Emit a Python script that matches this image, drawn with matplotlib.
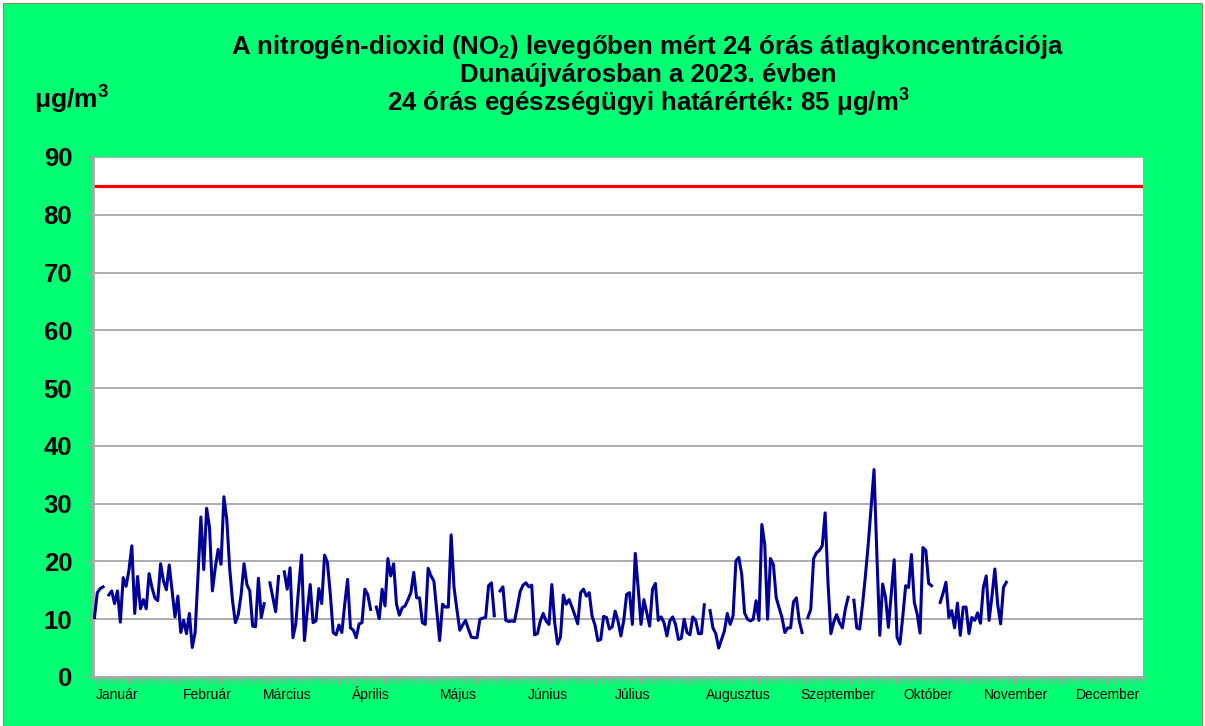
import numpy as np
import matplotlib
matplotlib.use("Agg")
import matplotlib.pyplot as plt
from matplotlib.patches import Rectangle
import matplotlib.transforms as mtransforms

plt.rcParams['font.family'] = ['Liberation Sans', 'DejaVu Sans']
plt.rcParams['mathtext.fontset'] = 'custom'
plt.rcParams['mathtext.rm'] = 'Liberation Sans:bold'
plt.rcParams['mathtext.default'] = 'rm'

nan = np.nan

# daily 24h mean NO2 (µg/m3), 2023, from 1 Jan; nan = missing day
jan_feb = [10.3, 14.6, 15.3, 15.6, nan, 14.2, 14.9, 12.7, 14.9, 9.5,
           17.2, 15.7, 18.5, 22.7, 11.0, 17.4, 11.8, 13.4, 11.8, 17.9,
           15.5, 13.7, 13.2, 19.6, 16.6, 15.1, 19.4, 14.9, 10.4, 14.0,
           7.7, 9.8, 7.5, 11.0, 5.1, 7.7, 17.5, 27.7, 18.6, 29.2,
           25.9, 14.9, 18.9, 22.1, 19.5, 31.2, 27.3, 18.9, 13.2, 9.4,
           10.8, 14.3, 19.6, 16.0, 14.9, 8.8, 8.7, 17.1, 10.3]
mar_apr = [12.7, nan, 16.3, 13.8, 11.3, 17.4, nan, 18.2, 15.2, 18.9,
           6.8, 9.2, 15.5, 21.1, 6.3, 11.5, 16.0, 9.4, 9.7, 15.3,
           12.7, 21.1, 19.8, 14.3, 7.7, 7.3, 9.0, 7.7, 12.6, 16.9,
           8.5, 8.1, 6.8, 9.2, 9.4, 15.2, 14.3, 11.7, nan, 12.1,
           10.1, 15.2, 12.3, 20.5, 17.5, 19.6, 12.6, 10.7, 12.0, 12.3,
           13.4, 14.6, 18.1, 13.7, 13.7, 9.4, 9.1, 18.8, 17.5, 16.6,
           11.4]
may_jun = [6.3, 12.6, 12.1, 12.1, 24.6, 15.5, 11.7, 8.1, 9.0, 9.8,
           8.3, 6.9, 6.8, 6.8, 10.0, 10.2, 10.3, 15.8, 16.3, 10.6,
           nan, 14.9, 15.6, 9.8, 9.6, 9.7, 9.6, 12.1, 14.8, 15.9,
           16.3, 15.6, 15.9, 7.3, 7.5, 9.7, 11.0, 9.7, 9.1, 16.0,
           9.4, 5.7, 6.9, 14.2, 12.6, 13.4, 12.1, 10.7, 9.2, 14.6,
           15.2, 14.0, 14.6, 10.5, 9.0, 6.3, 6.5, 10.5, 10.3, 8.3,
           8.7]
jul_aug = [11.4, 9.7, 7.1, 9.8, 14.3, 14.6, 9.1, 21.4, 15.5, 9.1,
           13.4, 11.1, 8.8, 15.2, 16.2, 9.8, 10.4, 9.4, 7.1, 9.7,
           10.4, 9.1, 6.5, 6.7, 10.0, 7.7, 7.3, 10.4, 9.8, 7.5,
           7.5, 12.5, nan, 11.5, 8.5, 7.5, 5.0, 6.5, 8.0, 11.0,
           9.1, 10.6, 20.1, 20.7, 17.8, 11.1, 10.0, 9.7, 10.0, 13.2,
           9.8, 26.4, 23.0, 10.0, 20.5, 19.5, 13.7, 12.0, 10.3, 7.7,
           8.5, 8.5]
sep_oct = [13.0, 13.7, 9.7, 7.7, nan, 10.3, 11.7, 20.5, 21.5, 21.9,
           22.7, 28.4, 16.3, 7.5, 9.5, 10.8, 9.4, 8.5, 11.7, 13.8,
           nan, 13.3, 8.5, 8.3, 12.5, 17.5, 23.0, 29.5, 35.9, 21.0,
           7.2, 16.1, 13.8, 8.6, 14.5, 20.3, 6.9, 5.7, 10.5, 15.8,
           15.5, 21.2, 12.9, 10.9, 7.6, 22.4, 21.9, 16.2, 15.8, nan,
           nan]
nov_dec = [12.9, 14.5, 16.4, 10.3, 11.5, 8.5, 12.8, 7.2, 12.1, 12.1,
           7.5, 10.3, 9.8, 11.1, 9.3, 15.5, 17.5, 9.8, 14.0, 18.7,
           12.5, 9.2, 15.5, 16.4]

no2 = np.array(jan_feb + mar_apr + may_jun + jul_aug + sep_oct + nov_dec)
no2 = np.concatenate([no2, np.full(365 - len(no2), nan)])
days = np.arange(365)

limit = 85
months = ['Január', 'Február', 'Március', 'Április', 'Május', 'Június',
          'Július', 'Augusztus', 'Szeptember', 'Október', 'November', 'December']

green = '#00FF73'
fig = plt.figure(figsize=(12.05, 7.26), dpi=100, facecolor='white')
bg = Rectangle((3 / 1205, 0), 1199 / 1205, 723 / 726,
               transform=fig.transFigure, facecolor=green,
               edgecolor='#8a8a60', linewidth=0.8, zorder=-10)
fig.patches.append(bg)

ax = fig.add_axes([93 / 1205, 1 - 677 / 726, 1050 / 1205, 520 / 726], zorder=5)
ax.set_facecolor('white')

ax.plot(days, no2, color='#000099', linewidth=2.2, zorder=3)
ax.axhline(limit, color='#FF0000', linewidth=2.3, zorder=2)

ax.set_xlim(-0.5, 364.5)
ax.set_ylim(0, 90)
ax.set_yticks(range(0, 91, 10))
ax.yaxis.grid(True, color='#A0A0A0', linewidth=1.2)
ax.set_axisbelow(True)

ax.tick_params(axis='y', labelsize=18.5, length=5, width=1, color='#A0A0A0', pad=10)
for lbl in ax.get_yticklabels():
    lbl.set_fontweight('bold')

ax.set_xticks([])
ax.set_xticks(np.arange(-0.5, 365, 1), minor=True)
ax.tick_params(axis='x', which='minor', length=5, width=0.6, color='#A0A0A0')

for s in ['top', 'right']:
    ax.spines[s].set_visible(False)
for s in ['left', 'bottom']:
    ax.spines[s].set_color('#A8A8A8')
    ax.spines[s].set_linewidth(2)

# month labels
label_pos = [0.5, 30.8, 58.6, 89.5, 120.1, 150.7, 181.0, 212.6, 245.3, 281.1, 309.2, 341.2]
trans = mtransforms.blended_transform_factory(ax.transData, ax.transAxes)
for pos, name in zip(label_pos, months):
    ax.text(pos, -0.043, name, transform=trans, ha='left', va='baseline', fontsize=10)

fig.text(648 / 1205, 1 - 47 / 726,
         'A nitrogén-dioxid (NO$_2$) levegőben mért 24 órás átlagkoncentrációja',
         ha='center', va='center', fontsize=18.5, fontweight='bold')
fig.text(648 / 1205, 1 - 75 / 726, 'Dunaújvárosban a 2023. évben',
         ha='center', va='center', fontsize=18.5, fontweight='bold')
fig.text(648 / 1205, 1 - 103 / 726, '24 órás egészségügyi határérték: 85 μg/m$^3$',
         ha='center', va='center', fontsize=18.5, fontweight='bold')
fig.text(71 / 1205, 1 - 100 / 726, 'μg/m$^3$', ha='center', va='center',
         fontsize=19, fontweight='bold')

fig.savefig('out.png', dpi=100, facecolor=fig.get_facecolor())
